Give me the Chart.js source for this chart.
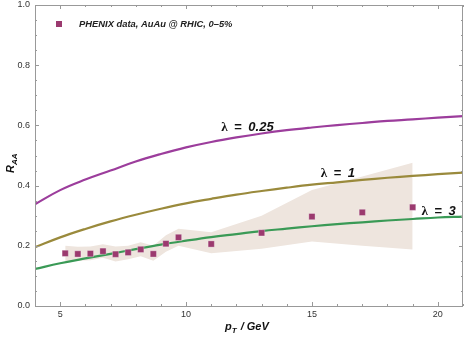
<!DOCTYPE html>
<html>
<head>
<meta charset="utf-8">
<script src="https://cdn.jsdelivr.net/npm/chart.js@4.4.1/dist/chart.umd.min.js"></script>
<style>
  html, body { margin: 0; padding: 0; background: #fff; }
  #wrap { width: 464px; height: 337px; }
</style>
</head>
<body>
<div id="wrap"><canvas id="raaChart" width="464" height="337"></canvas></div>
<script>
// PHENIX data points
let dataPt = [5.2, 5.7, 6.2, 6.7, 7.2, 7.7, 8.2, 8.7, 9.2, 9.7, 11, 13, 15, 17, 19];
let dataRaa = [0.175, 0.173, 0.174, 0.182, 0.172, 0.178, 0.188, 0.173, 0.207, 0.228, 0.206, 0.243, 0.297, 0.311, 0.328];
let bandUpper = [0.2, 0.197, 0.198, 0.205, 0.198, 0.2, 0.212, 0.2, 0.235, 0.257, 0.245, 0.3, 0.385, 0.43, 0.476];
let bandLower = [0.148, 0.15, 0.152, 0.16, 0.148, 0.155, 0.165, 0.15, 0.18, 0.2, 0.175, 0.19, 0.214, 0.2, 0.188];

// model curves
let curvePt = [4, 5, 6, 7, 8, 9, 10, 11, 12, 13, 14, 15, 16, 17, 18, 19, 20, 21];
let lambda025 = [0.338, 0.385, 0.42, 0.45, 0.48, 0.505, 0.527, 0.545, 0.56, 0.573, 0.584, 0.593, 0.601, 0.608, 0.615, 0.62, 0.626, 0.631];
let lambda1 = [0.195, 0.228, 0.256, 0.281, 0.303, 0.323, 0.341, 0.356, 0.37, 0.382, 0.393, 0.403, 0.411, 0.419, 0.426, 0.432, 0.438, 0.443];
let lambda3 = [0.123, 0.142, 0.158, 0.173, 0.189, 0.204, 0.217, 0.229, 0.239, 0.249, 0.257, 0.265, 0.272, 0.278, 0.284, 0.289, 0.294, 0.297];

let xTicks = [5, 10, 15, 20];
let yTicks = [0.0, 0.2, 0.4, 0.6, 0.8, 1.0];

// curve labels: [number, x, y]
let curveLabels = [["0.25", 11.4, 0.582], ["1", 15.35, 0.428], ["3", 19.35, 0.302]];

let purple = "#9c3d9c";
let olive = "#9a8a3c";
let green = "#3a9a56";
let pointCol = "#9b3a6f";
let bandCol = "rgb(238,229,222)";
let axisCol = "#999";

function toXY(xs, ys) {
    return xs.map((x, i) => ({ x: x, y: ys[i] }));
}

// inward frame ticks (Mathematica style) + labels + legend
const framePlugin = {
    id: "frame",
    afterDraw(chart) {
        let ctx = chart.ctx;
        let a = chart.chartArea;
        let xs = chart.scales.x, ys = chart.scales.y;
        ctx.save();
        ctx.strokeStyle = axisCol;
        ctx.lineWidth = 1;
        ctx.strokeRect(a.left + 0.5, a.top + 0.5, a.right - a.left - 1, a.bottom - a.top);

        for (let v = 4; v <= 21; v++) {
            let len = (v % 5 == 0) ? 4 : 2;
            let px = Math.round(xs.getPixelForValue(v)) + 0.5;
            ctx.beginPath();
            ctx.moveTo(px, a.bottom); ctx.lineTo(px, a.bottom - len);
            ctx.moveTo(px, a.top); ctx.lineTo(px, a.top + len);
            ctx.stroke();
        }
        for (let i = 0; i <= 20; i++) {
            let v = i * 0.05;
            let len = (i % 4 == 0) ? 4 : 2;
            let py = Math.round(ys.getPixelForValue(v)) + 0.5;
            ctx.beginPath();
            ctx.moveTo(a.left, py); ctx.lineTo(a.left + len, py);
            ctx.moveTo(a.right, py); ctx.lineTo(a.right - len, py);
            ctx.stroke();
        }

        ctx.fillStyle = "#333";
        ctx.font = "9px 'Liberation Sans', Arial, sans-serif";
        ctx.textAlign = "center";
        ctx.textBaseline = "top";
        xTicks.forEach(v => ctx.fillText(String(v), xs.getPixelForValue(v), a.bottom + 4));
        ctx.textAlign = "right";
        ctx.textBaseline = "middle";
        yTicks.forEach(v => ctx.fillText(v.toFixed(1), a.left - 5, ys.getPixelForValue(v)));

        // axis titles
        ctx.fillStyle = "#111";
        ctx.textAlign = "left";
        ctx.textBaseline = "alphabetic";
        ctx.font = "bold italic 11px 'Liberation Sans', Arial, sans-serif";
        let tx = 225, ty = 330;
        ctx.fillText("p", tx, ty);
        let w = ctx.measureText("p").width;
        ctx.font = "bold italic 8px 'Liberation Sans', Arial, sans-serif";
        ctx.fillText("T", tx + w, ty + 3);
        let w2 = ctx.measureText("T").width;
        ctx.font = "bold italic 11px 'Liberation Sans', Arial, sans-serif";
        ctx.fillText(" / GeV", tx + w + w2 + 1, ty);

        ctx.save();
        ctx.translate(14, 163);
        ctx.rotate(-Math.PI / 2);
        ctx.fillText("R", -10, 0);
        let rw = ctx.measureText("R").width;
        ctx.font = "bold italic 8px 'Liberation Sans', Arial, sans-serif";
        ctx.fillText("AA", -10 + rw, 3);
        ctx.restore();

        // legend
        ctx.fillStyle = pointCol;
        ctx.fillRect(56, 21, 6, 6);
        ctx.fillStyle = "#222";
        ctx.font = "bold italic 9.4px 'Liberation Sans', Arial, sans-serif";
        ctx.textBaseline = "middle";
        ctx.fillText("PHENIX data, AuAu @ RHIC, 0\u20135%", 79, 24);

        // curve labels
        ctx.fillStyle = "#111";
        curveLabels.forEach(l => {
            let px = xs.getPixelForValue(l[1]);
            let py = ys.getPixelForValue(l[2]);
            ctx.textBaseline = "alphabetic";
            ctx.font = "bold 13px 'Liberation Serif', 'DejaVu Serif', serif";
            ctx.fillText("\u03bb", px, py);
            ctx.font = "bold 13px 'Liberation Sans', Arial, sans-serif";
            ctx.fillText("=", px + 13, py);
            ctx.font = "bold italic 13px 'Liberation Sans', Arial, sans-serif";
            ctx.fillText(l[0], px + 27, py);
        });
        ctx.restore();
    }
};

let ctx = document.getElementById("raaChart").getContext("2d");
let raaChart = new Chart(ctx, {
    type: "scatter",
    data: {
        datasets: [
            {
                type: "line",
                data: toXY(dataPt, bandUpper),
                borderWidth: 0,
                pointRadius: 0,
                backgroundColor: bandCol,
                fill: "+1",
                tension: 0,
                order: 10
            },
            {
                type: "line",
                data: toXY(dataPt, bandLower),
                borderWidth: 0,
                pointRadius: 0,
                fill: false,
                tension: 0,
                order: 9
            },
            {
                type: "line",
                data: toXY(curvePt, lambda025),
                borderColor: purple,
                borderWidth: 2.2,
                pointRadius: 0,
                fill: false,
                tension: 0.4,
                order: 5
            },
            {
                type: "line",
                data: toXY(curvePt, lambda1),
                borderColor: olive,
                borderWidth: 2.2,
                pointRadius: 0,
                fill: false,
                tension: 0.4,
                order: 4
            },
            {
                type: "line",
                data: toXY(curvePt, lambda3),
                borderColor: green,
                borderWidth: 2.2,
                pointRadius: 0,
                fill: false,
                tension: 0.4,
                order: 3
            },
            {
                data: toXY(dataPt, dataRaa),
                pointStyle: "rect",
                pointRadius: 4.4,
                backgroundColor: pointCol,
                borderColor: "rgba(255,255,255,0.6)",
                borderWidth: 0.5,
                order: 1
            }
        ]
    },
    options: {
        responsive: false,
        animation: false,
        layout: { autoPadding: false, padding: { top: 5, right: 1, left: 0, bottom: 0 } },
        plugins: { legend: { display: false }, tooltip: { enabled: false } },
        scales: {
            x: {
                type: "linear",
                min: 4,
                max: 21,
                grid: { display: false },
                border: { display: false },
                ticks: { display: false },
                afterFit: (s) => { s.height = 31; }
            },
            y: {
                min: 0,
                max: 1,
                grid: { display: false },
                border: { display: false },
                ticks: { display: false },
                afterFit: (s) => { s.width = 35; }
            }
        }
    },
    plugins: [framePlugin]
});
</script>
</body>
</html>
